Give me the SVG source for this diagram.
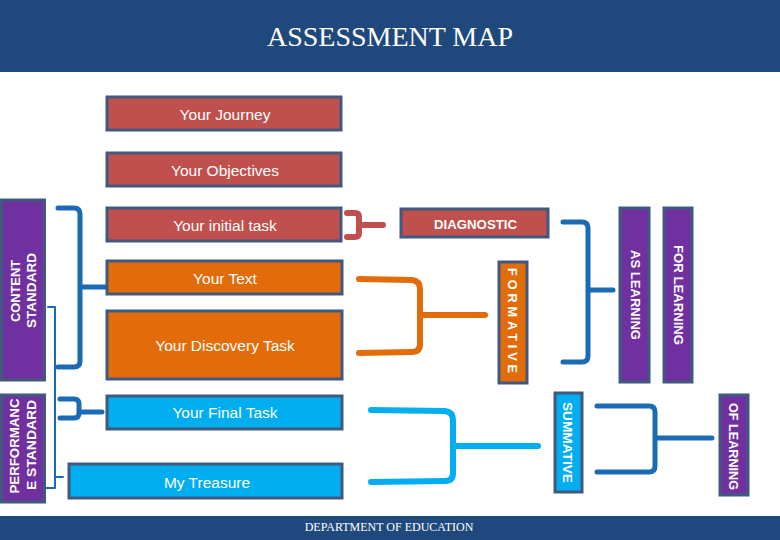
<svg xmlns="http://www.w3.org/2000/svg" width="780" height="540" viewBox="0 0 780 540">
<style>
.box{stroke:#41587F;stroke-width:3}
.red{fill:#C0504D}.org{fill:#E36C0A}.sky{fill:#00AEEF}.pur{fill:#7030A0}
.lbl{font-family:"Liberation Sans",Arial,sans-serif;font-size:15.5px;fill:#FFFFFF;text-anchor:middle}
.cap{font-family:"Liberation Sans",Arial,sans-serif;font-size:13px;font-weight:bold;fill:#FFFFFF;text-anchor:middle}
.br{fill:none;stroke-linecap:round;stroke-linejoin:round}
.blue{stroke:#1A6AB5;stroke-width:5}
.thin{stroke:#1A6AB5;stroke-width:2}
.redb{stroke:#C0504D;stroke-width:6}
.orgb{stroke:#E36C0A;stroke-width:6}
.skyb{stroke:#00AEEF;stroke-width:6}
</style>
<rect width="780" height="540" fill="#FFFFFF"/>
<g id="header">
<rect x="0" y="0" width="780" height="72" fill="#1F497D"/>
<text x="390" y="46" font-family="'Liberation Serif','Times New Roman',serif" font-size="28" fill="#FFFFFF" text-anchor="middle">ASSESSMENT MAP</text>
</g>
<g id="footer">
<rect x="0" y="516" width="780" height="24" fill="#1F497D"/>
<text x="389" y="531" font-family="'Liberation Serif','Times New Roman',serif" font-size="12" fill="#FFFFFF" text-anchor="middle">DEPARTMENT OF EDUCATION</text>
</g>
<g id="connectors">
<path class="br blue" d="M58,208 H74 Q80,208 80,214 V361 Q80,367 74,367 H58 M80,287 H108"/>
<path class="br thin" d="M48,307 H55 V488 H46 M55,477 H63"/>
<path class="br blue" d="M60,399 H74 Q79,399 79,404 V413 Q79,418 74,418 H60 M79,412 H102"/>
<path class="br redb" d="M347,213 H355 Q359,213 359,217 V233 Q359,237 355,237 H347 M359,225 H383"/>
<path class="br orgb" d="M359,279 L412,280 Q420,281 420,289 V344 Q420,352 412,352 L359,353 M420,315 H485"/>
<path class="br skyb" d="M371,410 L445,411 Q453,412 453,420 V473 Q453,481 445,481 L371,482 M453,446 L538,446"/>
<path class="br blue" d="M563,222 H582 Q588,222 588,228 V356 Q588,362 582,362 H563 M588,290 H613"/>
<path class="br blue" d="M597,406 H649 Q655,406 655,412 V466 Q655,472 649,472 H597 M655,438 H712"/>
</g>
<g id="content-standard">
<rect class="box pur" x="1.5" y="200" width="43" height="180"/>
<text class="cap" font-size="14" transform="translate(15,291) rotate(-90)" y="5" textLength="62" lengthAdjust="spacingAndGlyphs">CONTENT</text>
<text class="cap" font-size="14" transform="translate(30.5,290.5) rotate(-90)" y="5" textLength="75" lengthAdjust="spacingAndGlyphs">STANDARD</text>
</g>
<g id="performance-standard">
<rect class="box pur" x="1.5" y="395" width="43" height="107"/>
<text class="cap" font-size="14" transform="translate(14,446) rotate(-90)" y="5" textLength="95" lengthAdjust="spacingAndGlyphs">PERFORMANC</text>
<text class="cap" font-size="14" transform="translate(31,445) rotate(-90)" y="5" textLength="90" lengthAdjust="spacingAndGlyphs">E STANDARD</text>
</g>
<g id="your-journey">
<rect class="box red" x="107" y="97" width="234" height="33"/>
<text class="lbl" x="225" y="119.5">Your Journey</text>
</g>
<g id="your-objectives">
<rect class="box red" x="107" y="153" width="234" height="33"/>
<text class="lbl" x="225" y="175.5">Your Objectives</text>
</g>
<g id="your-initial-task">
<rect class="box red" x="107" y="208" width="234" height="33"/>
<text class="lbl" x="225" y="230.5">Your initial task</text>
</g>
<g id="your-text">
<rect class="box org" x="107" y="261" width="235" height="33"/>
<text class="lbl" x="225" y="283.5">Your Text</text>
</g>
<g id="your-discovery-task">
<rect class="box org" x="107" y="311" width="235" height="68"/>
<text class="lbl" x="225" y="350.5">Your Discovery Task</text>
</g>
<g id="your-final-task">
<rect class="box sky" x="107" y="396" width="235" height="33"/>
<text class="lbl" x="225" y="417.5">Your Final Task</text>
</g>
<g id="my-treasure">
<rect class="box sky" x="69" y="464" width="273" height="34"/>
<text class="lbl" x="207" y="487.5">My Treasure</text>
</g>
<g id="diagnostic">
<rect class="box red" x="401" y="209" width="147" height="28"/>
<text class="cap" x="475.5" y="228.5" textLength="83" lengthAdjust="spacingAndGlyphs">DIAGNOSTIC</text>
</g>
<g id="formative">
<rect class="box org" x="499" y="262" width="28" height="121"/>
<text class="cap" transform="translate(512.5,322.5) rotate(90)" y="4.7" letter-spacing="4" textLength="109" lengthAdjust="spacingAndGlyphs">FORMATIVE</text>
</g>
<g id="summative">
<rect class="box sky" x="555" y="393" width="27" height="99"/>
<text class="cap" transform="translate(568,442.5) rotate(90)" y="4.7" textLength="81" lengthAdjust="spacingAndGlyphs">SUMMATIVE</text>
</g>
<g id="as-learning">
<rect class="box pur" x="620" y="208" width="29" height="174"/>
<text class="cap" transform="translate(635.5,295) rotate(90)" y="4.7" textLength="90" lengthAdjust="spacingAndGlyphs">AS LEARNING</text>
</g>
<g id="for-learning">
<rect class="box pur" x="664" y="208" width="28" height="174"/>
<text class="cap" transform="translate(678.5,295) rotate(90)" y="4.7" textLength="100" lengthAdjust="spacingAndGlyphs">FOR LEARNING</text>
</g>
<g id="of-learning">
<rect class="box pur" x="720" y="395" width="28" height="100"/>
<text class="cap" transform="translate(734,446.5) rotate(90)" y="4.7" textLength="87" lengthAdjust="spacingAndGlyphs">OF LEARNING</text>
</g>
</svg>
